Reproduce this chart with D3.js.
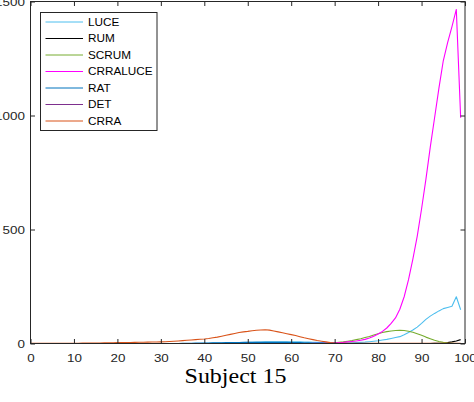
<!DOCTYPE html>
<html>
<head>
<meta charset="utf-8">
<script src="https://cdn.jsdelivr.net/npm/d3@7/dist/d3.min.js"></script>
<style>
  html, body { margin: 0; padding: 0; background: #fff; overflow: hidden; }
  svg { display: block; }
</style>
</head>
<body>
<svg id="chart" width="474" height="402"></svg>
<script>
// Sample positions (percent of the trial)
const xValues = [
  0,1,2,3,4,5,6,7,8,9,10,11,12,13,14,15,16,17,18,19,
  20,21,22,23,24,25,26,27,28,29,30,31,32,33,34,35,36,37,38,39,
  40,41,42,43,44,45,46,47,48,49,50,51,52,53,54,55,56,57,58,59,
  60,61,62,63,64,65,66,67,68,69,70,71,72,73,74,75,76,77,78,79,
  80,81,82,83,84,85,86,87,88,89,90,91,92,93,94,95,96,97,98,99
];

const LUCE = [
  0,0,0,0,0,0,0,0,0,0,0,0,0,0,0,0,0,0,0,0,
  0,0,0,0,0,0,0,0,0,0,0,0,0,0,0,0,0,0,0,0,
  1,1,1.5,1.5,2,2.5,3,3.5,4,4.5,5,5.5,6,6.5,7,7.5,8,8,8,8,
  8,7.5,7,6.5,6,5.5,5,4.5,4,3.5,3,3,3,3,3,4,5,6,8,10,
  12,15,18,22,26,30,38,48,59,72,88,106,120,132,143,153,158,163,205,148
];

const RUM = [
  0,0,0,0,0,0,0,0,0,0,0,0,0,0,0,0,0,0,0,0,
  0,0,0,0,0,0,0,0,0,0,0,0,0,0,0,0,0,0,0,0,
  0,0,0,0,0,0,0,0,0,0,0,0,0,0,0,0,0,0,0,0,
  0,0,0,0,0,0,0,0,0,0,0,0,0,0,0,0,0,0,0,0,
  0,0,0,0,0,0,0,0,0,0,0,0,0,0.5,1,2,4,7,11,17
];

const SCRUM = [
  0,0,0,0,0,0,0,0,0,0,0,0,0,0,0,0,0,0,0,0,
  0,0,0,0,0,0,0,0,0,0,0,0,0,0,0,0,0,0,0,0,
  0,0,0,0,0,0,0,0,0,0,0,0,0,0,0,0,0,0,0,0,
  0,0,0,0,0,0,0,0,1,2,3,5,7,10,13,17,21,26,31,37,
  43,48,52,55,57,58,57,54,49,43,36,28,21,14,9,5,2,1,0,0
];

const CRRALUCE = [
  0,0,0,0,0,0,0,0,0,0,0,0,0,0,0,0,0,0,0,0,
  0,0,0,0,0,0,0,0,0,0,0,0,0,0,0,0,0,0,0,0,
  0,0,0,0,0,0,0,0,0,0,0,0,0,0,0,0,0,0,0,0,
  0,0,0,0,0,0.5,0.8,1,1.5,2,3,4,5,7,9,11,14,18,24,32,
  42,53,68,88,112,150,205,280,370,470,590,720,860,990,1120,1240,1320,1390,1465,990
];

const RAT = [
  0,0,0,0,0,0,0,0,0,0,0,0,0,0,0,0,0,0,0,0,
  0,0,0,0,0,0,0,0,0,0,0,0,0,0,0,0.5,1,1.2,1.5,1.8,
  2,2.5,3,3.2,3.5,3.8,4,4.2,4.5,4.8,5,5,5,5,5,5,5,5,5,4.8,
  4.5,4.2,4,3.5,3,2.5,2,1.5,1,0.8,0.5,0.2,0,0,0,0,0,0,0,0,
  0,0,0,0,0,0,0,0,0,0,0,0,0,0,0,0,0,0,0,0
];

const DET = [
  0,0,0,0,0,0,0,0,0,0,0,0,0,0,0,0,0,0,0,0,
  0,0,0,0,0,0,0,0,0,0,0,0,0,0,0,0,0,0,0,0,
  0,0,0,0,0,0,0,0,0,0,0,0,0,0,0,0,0,0,0,0,
  0,0,0,0,0,0,0,0,0,0,0,0,0,0,0,0,0,0,0,0,
  0,0,0,0,0,0,0,0,0,0,0,0,0,0,0,0,0,0,0,0
];

const CRRA = [
  0.5,0.5,0.5,0.5,0.6,0.7,0.8,0.9,1,1.1,1.2,1.4,1.6,1.8,2,2.2,2.5,2.8,3.1,3.4,
  3.8,4.1,4.4,4.7,5,5.3,5.7,6,6.3,6.6,7,7.8,8.8,10,11.2,12.5,14,15.5,17,18.5,
  20,22,25,28,32,36,40,44,48,51,53,56,58,59.5,60,58.5,55,51,47,43,
  39,35,30,25,21,17,13,10,7,4,2,1,0.5,0.5,0.5,0.5,0.5,0.5,0.5,0.5,
  0.5,0.5,0.5,0.5,0.5,0.5,0.5,0.5,0.5,0.5,0.5,0.5,0.5,0.5,0.5,0.5,0.5,0.5,0.5,0.5
];

const seriesNames = ["LUCE", "RUM", "SCRUM", "CRRALUCE", "RAT", "DET", "CRRA"];
const seriesValues = [LUCE, RUM, SCRUM, CRRALUCE, RAT, DET, CRRA];
const seriesColors = ["#4DBEEE", "#000000", "#77AC30", "#FF00FF", "#0072BD", "#7E2F8E", "#D95319"];

const xTicks = [0, 10, 20, 30, 40, 50, 60, 70, 80, 90, 100];
const yTicks = [0, 500, 1000, 1500];
const chartTitle = "Subject 15";

// Layout
const W = 474, H = 402;
const plot = { left: 30.5, right: 465, top: 1.5, bottom: 343.5 };
const textStretch = 1.22;
const axisColor = "#262626";
const tickFormat = d3.format("d");

const svg = d3.select("#chart");
svg.append("rect").attr("width", W).attr("height", H).attr("fill", "#fff");

const x = d3.scaleLinear().domain([0, 100]).range([plot.left, plot.right]);
const y = d3.scaleLinear().domain([0, 1500]).range([plot.bottom, plot.top]);

// Series lines
const line = d3.line()
  .x((d, i) => x(xValues[i]))
  .y(d => y(d));

const linesG = svg.append("g").attr("class", "series");
seriesValues.forEach((vals, k) => {
  linesG.append("path")
    .datum(vals)
    .attr("fill", "none")
    .attr("stroke", seriesColors[k])
    .attr("stroke-width", 1.1)
    .attr("stroke-linejoin", "round")
    .attr("d", line);
});

// Axes with inward ticks on all four sides
function styleAxis(g) {
  g.select(".domain").remove();
  g.selectAll(".tick line").attr("stroke", axisColor).attr("stroke-width", 1);
  g.selectAll(".tick text")
    .attr("fill", axisColor)
    .style("font-family", "Liberation Sans, Arial, sans-serif")
    .style("font-size", "11px");
}

const tickLen = 4.5;

const gBottom = svg.append("g")
  .attr("transform", `translate(0,${plot.bottom})`)
  .call(d3.axisBottom(x).tickValues(xTicks).tickFormat(tickFormat)
    .tickSizeInner(-tickLen).tickSizeOuter(0).tickPadding(11));
styleAxis(gBottom);
gBottom.selectAll(".tick text").attr("transform", `scale(${textStretch},1)`);

const gLeft = svg.append("g")
  .attr("transform", `translate(${plot.left},0)`)
  .call(d3.axisLeft(y).tickValues(yTicks).tickFormat(tickFormat)
    .tickSizeInner(-tickLen).tickSizeOuter(0).tickPadding(4.6));
styleAxis(gLeft);
gLeft.selectAll(".tick text").attr("transform", `scale(${textStretch},1)`);

const gTop = svg.append("g")
  .attr("transform", `translate(0,${plot.top})`)
  .call(d3.axisTop(x).tickValues(xTicks).tickSizeInner(-tickLen).tickSizeOuter(0).tickFormat(""));
styleAxis(gTop);

const gRight = svg.append("g")
  .attr("transform", `translate(${plot.right},0)`)
  .call(d3.axisRight(y).tickValues(yTicks).tickSizeInner(-tickLen).tickSizeOuter(0).tickFormat(""));
styleAxis(gRight);

// Axes box
svg.append("rect")
  .attr("x", plot.left).attr("y", plot.top)
  .attr("width", plot.right - plot.left).attr("height", plot.bottom - plot.top)
  .attr("fill", "none").attr("stroke", axisColor).attr("stroke-width", 1);

// Title below the axis
svg.append("text")
  .attr("transform", `translate(235.5,382.7) scale(1.2,1)`)
  .attr("text-anchor", "middle")
  .attr("fill", "#000")
  .style("font-family", "Liberation Serif, Times New Roman, serif")
  .style("font-size", "20px")
  .text(chartTitle);

// Legend
const legend = svg.append("g").attr("class", "legend");
legend.append("rect")
  .attr("x", 40.5).attr("y", 12.5).attr("width", 116.5).attr("height", 118)
  .attr("fill", "#fff").attr("stroke", axisColor).attr("stroke-width", 1);

seriesNames.forEach((name, k) => {
  const ly = 22 + 16.5 * k;
  legend.append("line")
    .attr("x1", 45.5).attr("x2", 83)
    .attr("y1", ly).attr("y2", ly)
    .attr("stroke", seriesColors[k]).attr("stroke-width", 1);
  legend.append("text")
    .attr("transform", `translate(88,${ly}) scale(1.12,1)`)
    .attr("dy", "0.36em")
    .attr("fill", "#000")
    .style("font-family", "Liberation Sans, Arial, sans-serif")
    .style("font-size", "10.5px")
    .text(name);
});
</script>
</body>
</html>
